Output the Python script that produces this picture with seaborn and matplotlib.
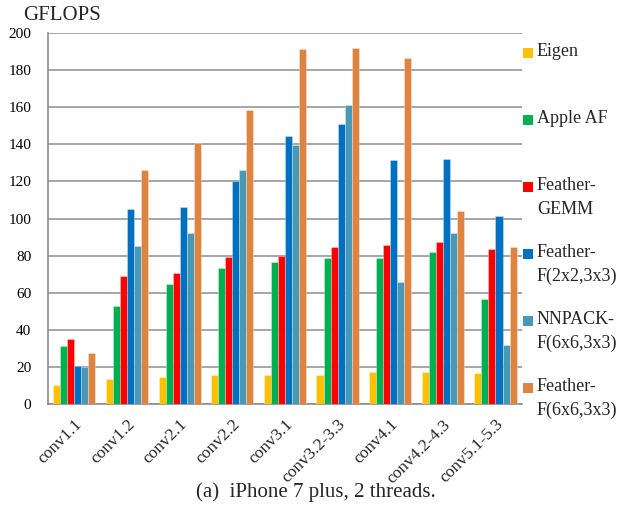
import numpy as np
import pandas as pd
import seaborn as sns
import matplotlib.pyplot as plt
from matplotlib.patches import Rectangle

layers = ["conv1.1", "conv1.2", "conv2.1", "conv2.2", "conv3.1",
          "conv3.2-3.3", "conv4.1", "conv4.2-4.3", "conv5.1-5.3"]

eigen = [10.1, 13.5, 14.7, 15.5, 15.8, 15.6, 17.1, 17.3, 16.7]
apple_af = [31.4, 53.0, 64.7, 73.3, 76.5, 78.7, 78.7, 81.8, 56.4]
feather_gemm = [35.2, 69.2, 70.6, 79.1, 80.0, 84.5, 85.9, 87.2, 83.4]
feather_f2x2 = [20.5, 105.0, 106.2, 120.0, 144.5, 150.8, 131.4, 131.9, 101.3]
nnpack_f6x6 = [19.9, 85.2, 92.0, 126.0, 139.8, 161.2, 65.6, 92.4, 31.8]
feather_f6x6 = [27.5, 126.1, 140.7, 158.5, 191.5, 192.1, 186.7, 104.0, 84.6]

series_labels = ["Eigen", "Apple AF", "Feather-\nGEMM", "Feather-\nF(2x2,3x3)",
                 "NNPACK-\nF(6x6,3x3)", "Feather-\nF(6x6,3x3)"]
series_values = [eigen, apple_af, feather_gemm, feather_f2x2, nnpack_f6x6, feather_f6x6]
colors = ["#FFC000", "#00B050", "#FF0000", "#0070C0", "#4799B6", "#DD8441"]

y_ticks = list(range(0, 201, 20))

df = pd.DataFrame({
    "layer": np.repeat([layers], len(series_labels), axis=0).ravel(),
    "series": np.repeat(series_labels, len(layers)),
    "gflops": np.concatenate(series_values),
})

sns.set_theme(style="white")
plt.rcParams["font.family"] = ["Liberation Serif", "DejaVu Serif"]

fig = plt.figure(figsize=(6.19, 5.30), dpi=100)
ax = fig.add_axes([0.0775, 0.2377, 0.7655, 0.7])

sns.barplot(data=df, x="layer", y="gflops", hue="series", order=layers,
            hue_order=series_labels, palette=colors, width=0.8, saturation=1,
            errorbar=None, legend=False, ax=ax,
            edgecolor=(1, 1, 1, 0.35), linewidth=0.6, zorder=3)

ax.set_ylim(0, 200)
ax.set_xlim(-0.5, len(layers) - 0.5)
ax.set_yticks(y_ticks)
ax.set_yticklabels([str(t) for t in y_ticks], fontsize=11)
ax.yaxis.grid(True, color="#A6A6A6", linewidth=1.4, zorder=0)
ax.set_axisbelow(True)
ax.tick_params(axis="y", length=0, pad=12, colors="black")

# group separators on the category axis
ax.set_xticks(np.arange(-0.5, len(layers) + 0.5, 1.0))
ax.set_xticklabels([])
ax.tick_params(axis="x", which="major", length=5, width=1, color="#8C8C8C", direction="out")
ax.set_xticks(np.arange(len(layers)), minor=True)
ax.set_xticklabels(layers, minor=True, rotation=45, ha="right",
                   rotation_mode="anchor", fontsize=12.5)
ax.tick_params(axis="x", which="minor", length=0, pad=9)

ax.set_xlabel("")
ax.set_ylabel("")
for side in ["top", "right"]:
    ax.spines[side].set_visible(False)
for side in ["left", "bottom"]:
    ax.spines[side].set_color("#8C8C8C")
    ax.spines[side].set_linewidth(1.2)

fig.text(23 / 619, 1 - 15 / 530, "GFLOPS", fontsize=15, ha="left", va="center")

# legend column on the right
W, H = 619, 530
for i, (label, color) in enumerate(zip(series_labels, colors)):
    yc = 53 + 67 * i
    fig.patches.append(Rectangle((523 / W, 1 - (yc + 5) / H), 10 / W, 10 / H,
                                 transform=fig.transFigure, facecolor=color,
                                 edgecolor="none"))
    fig.text(537 / W, 1 - (yc - 10) / H, label, fontsize=13, ha="left", va="top",
             linespacing=1.5)

fig.text(316 / W, 1 - 492 / H, "(a)  iPhone 7 plus, 2 threads.", fontsize=15,
         ha="center", va="center")

fig.savefig("out.png", dpi=100, facecolor="white")
